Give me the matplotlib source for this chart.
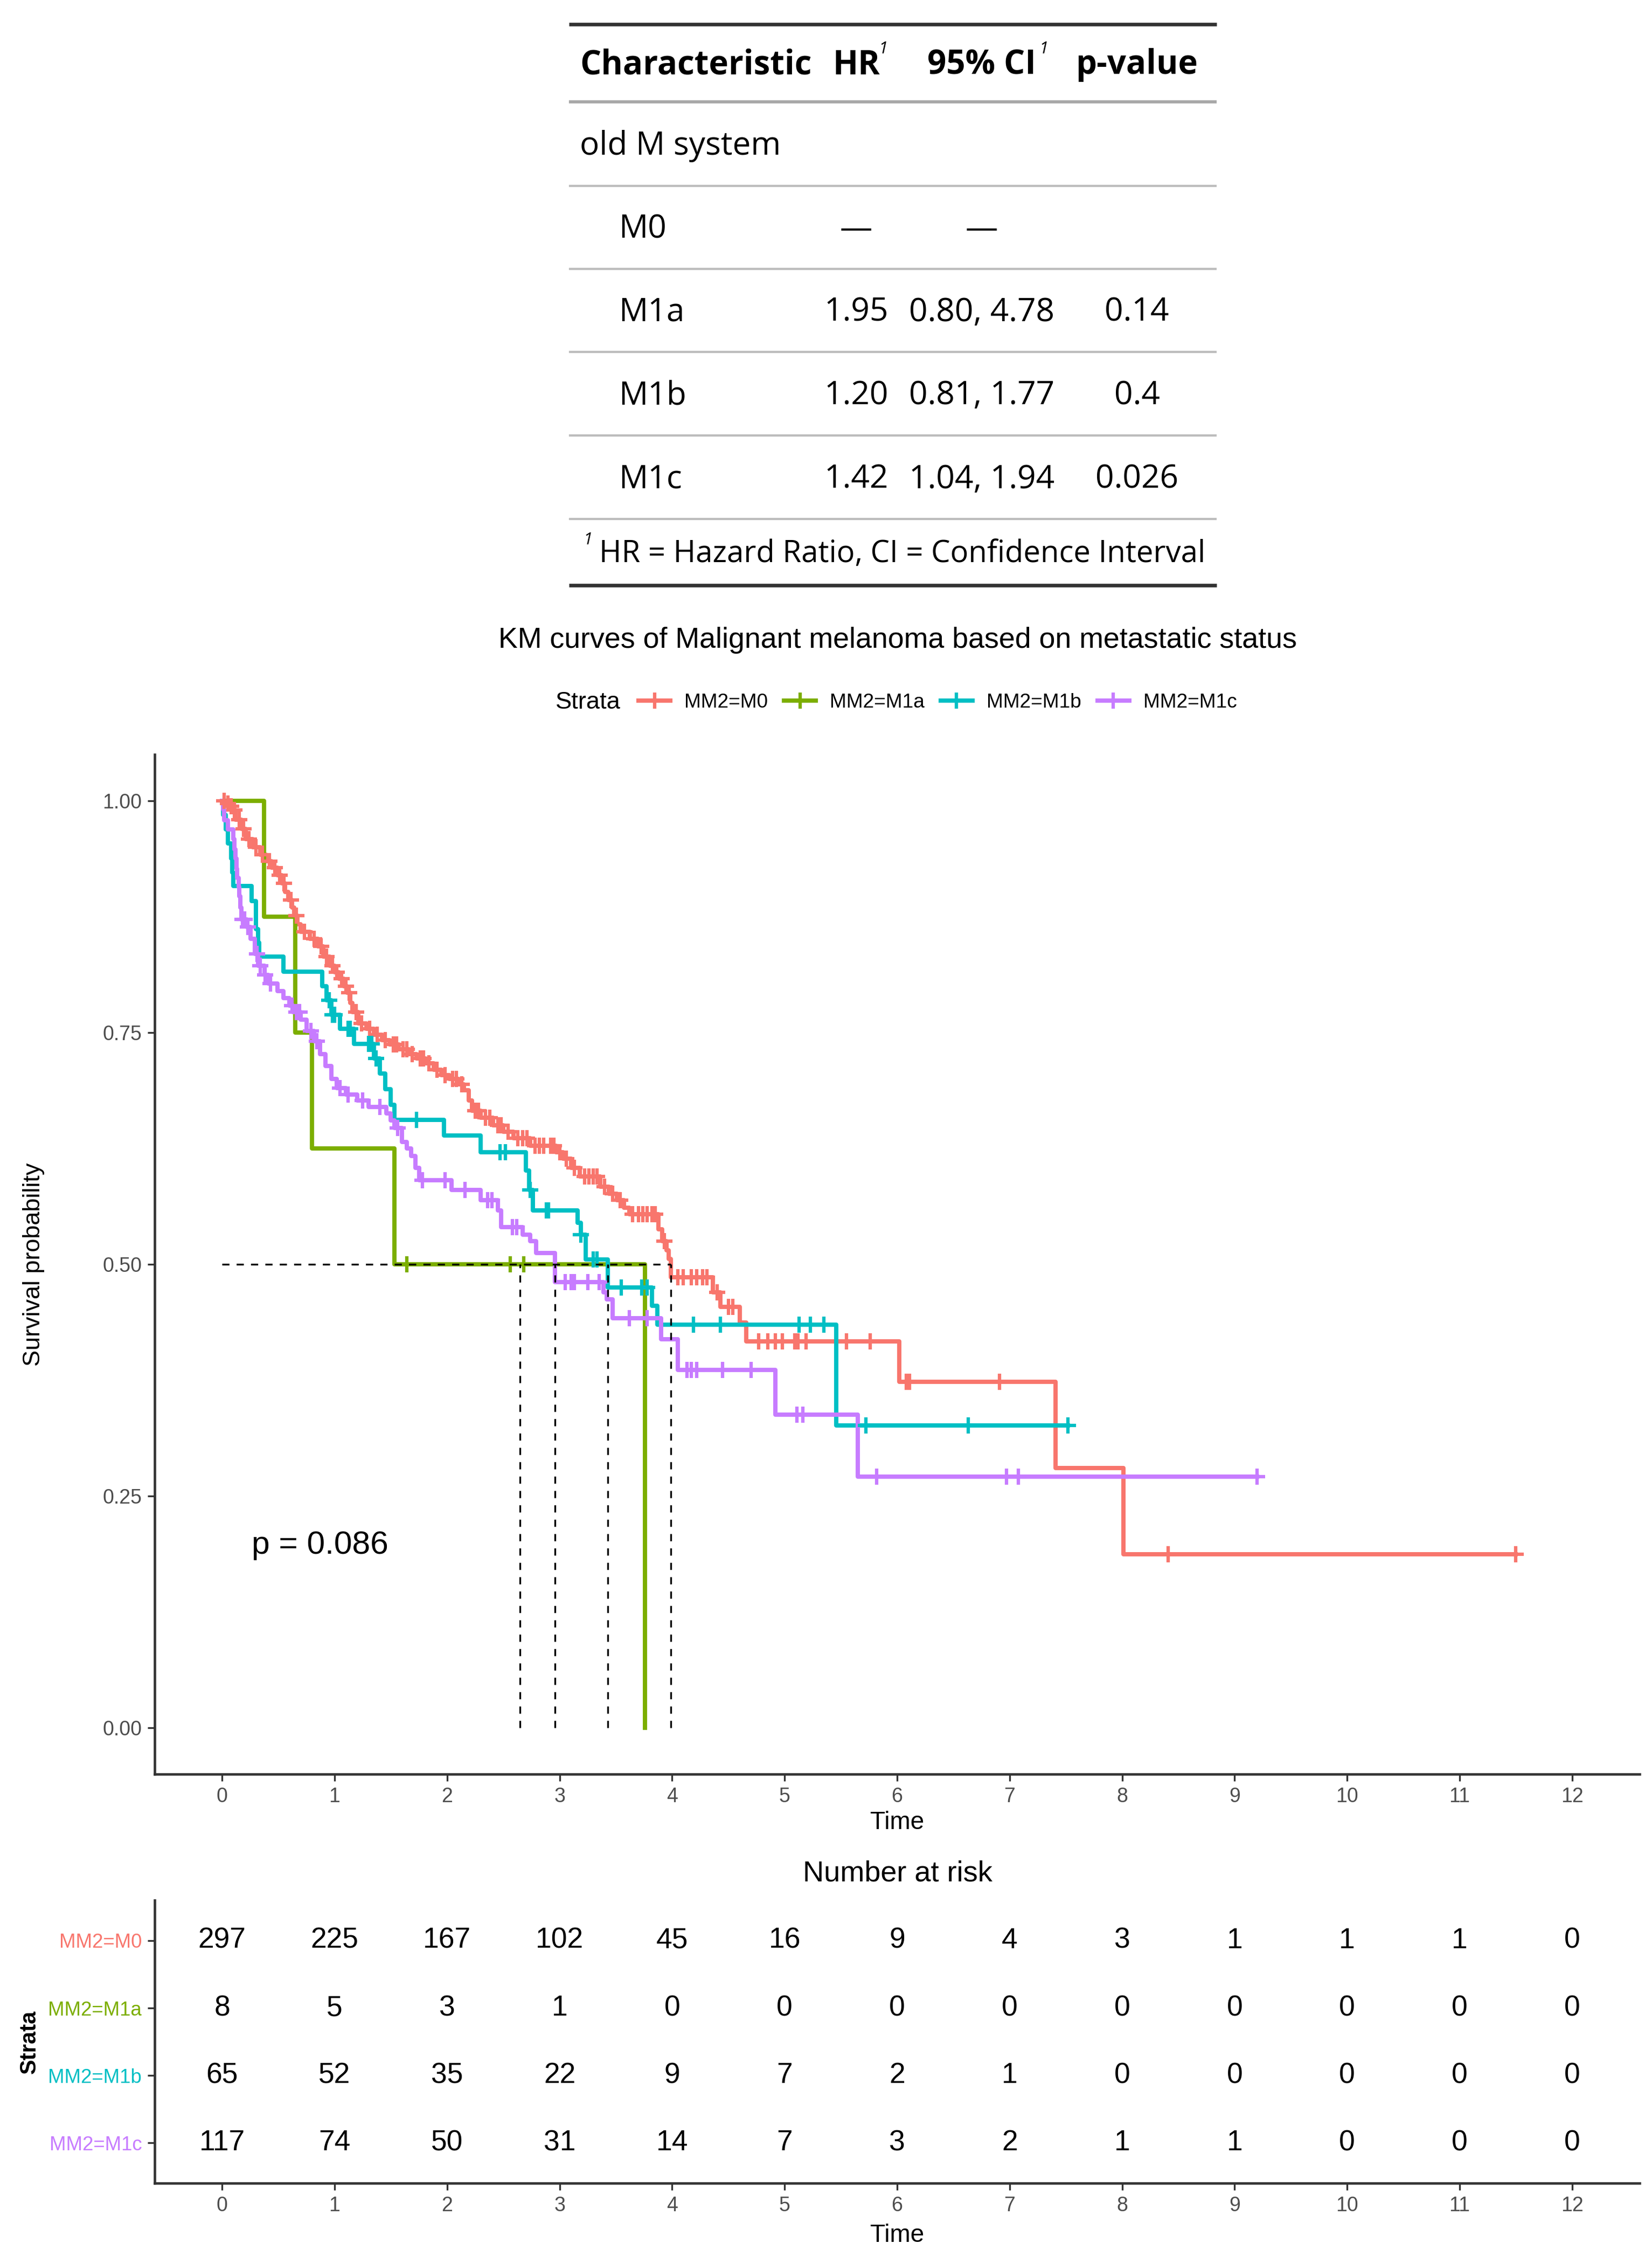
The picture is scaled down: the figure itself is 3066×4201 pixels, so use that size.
import numpy as np
import matplotlib
matplotlib.use("Agg")
import matplotlib.pyplot as plt
from matplotlib.lines import Line2D

# ---------------- data ----------------
# regression table
tab_header = ["Characteristic", "HR", "95% CI", "p-value"]
tab_group = "old M system"
tab_levels = ["M0", "M1a", "M1b", "M1c"]
tab_hr = ["\u2014", "1.95", "1.20", "1.42"]
tab_ci = ["\u2014", "0.80, 4.78", "0.81, 1.77", "1.04, 1.94"]
tab_p = ["", "0.14", "0.4", "0.026"]
tab_note = "HR = Hazard Ratio, CI = Confidence Interval"

strata = ["MM2=M0", "MM2=M1a", "MM2=M1b", "MM2=M1c"]
colors = ["#F8766D", "#7CAE00", "#00BFC4", "#C77CFF"]

# KM step knots (time of drop, survival after drop)
m0_time = [0, 0.03, 0.06, 0.09, 0.12, 0.17, 0.21, 0.27, 0.34, 0.39, 0.44, 0.49, 0.53, 0.56,
           0.59, 0.62, 0.64, 0.67, 0.70, 0.78, 0.85, 0.90, 0.955, 1.00, 1.04, 1.08, 1.11, 1.14,
           1.16, 1.21, 1.28, 1.35, 1.42, 1.49, 1.57, 1.66, 1.73, 1.81, 1.88, 1.95, 2.02, 2.10,
           2.15, 2.19, 2.22, 2.30, 2.41, 2.50, 2.59, 2.74, 2.97, 3.03, 3.10, 3.18, 3.36, 3.44,
           3.51, 3.57, 3.62, 3.88, 3.91, 3.95, 3.97, 3.99, 4.36, 4.43, 4.60, 4.66, 6.02, 7.41, 8.01]
m0_surv = [1.0, 0.997, 0.994, 0.990, 0.980, 0.970, 0.959, 0.950, 0.942, 0.935, 0.928, 0.920, 0.911, 0.902,
           0.893, 0.885, 0.876, 0.867, 0.859, 0.851, 0.843, 0.832, 0.822, 0.815, 0.808, 0.800, 0.793, 0.782,
           0.772, 0.760, 0.754, 0.748, 0.742, 0.737, 0.732, 0.727, 0.722, 0.717, 0.710, 0.704, 0.700, 0.694,
           0.688, 0.677, 0.666, 0.658, 0.650, 0.643, 0.636, 0.628, 0.621, 0.614, 0.604, 0.595, 0.584, 0.576,
           0.569, 0.561, 0.554, 0.538, 0.525, 0.515, 0.506, 0.486, 0.470, 0.454, 0.437, 0.417, 0.373, 0.280, 0.187]
m0_cens = [0.02, 0.05, 0.08, 0.11, 0.15, 0.19, 0.24, 0.30, 0.36, 0.42, 0.47, 0.51, 0.55, 0.61, 0.66,
           0.73, 0.82, 0.88, 0.93, 0.98, 1.02, 1.06, 1.10, 1.13, 1.19, 1.24, 1.31, 1.38, 1.45, 1.52,
           1.55, 1.61, 1.64, 1.69, 1.76, 1.79, 1.84, 1.91, 1.98, 2.05, 2.08, 2.13, 2.25, 2.28, 2.34,
           2.38, 2.45, 2.48, 2.54, 2.63, 2.67, 2.71, 2.78, 2.82, 2.86, 2.92, 2.95, 3.00, 3.06, 3.13,
           3.22, 3.26, 3.30, 3.33, 3.40, 3.47, 3.54, 3.65, 3.70, 3.74, 3.78, 3.82, 3.85, 3.93, 4.05,
           4.10, 4.17, 4.22, 4.27, 4.31, 4.40, 4.50, 4.54, 4.77, 4.85, 4.92, 4.98, 5.09, 5.12, 5.19,
           5.55, 5.76, 6.08, 6.11, 6.91, 8.41, 11.5]
m0_end = 11.5

m1a_time = [0, 0.37, 0.65, 0.80, 1.53, 3.76]
m1a_surv = [1.0, 0.875, 0.75, 0.625, 0.5, 0.0]
m1a_cens = [1.64, 2.56, 2.68]
m1a_end = 3.76

m1b_time = [0, 0.01, 0.03, 0.05, 0.08, 0.09, 0.10, 0.26, 0.30, 0.32, 0.33, 0.545, 0.89, 0.93, 0.97,
            1.05, 1.17, 1.35, 1.40, 1.45, 1.50, 1.53, 1.97, 2.30, 2.70, 2.73, 2.76, 3.16, 3.19, 3.23,
            3.43, 3.82, 3.87, 5.46]
m1b_surv = [1.0, 0.985, 0.969, 0.954, 0.938, 0.923, 0.908, 0.892, 0.862, 0.847, 0.832, 0.816, 0.800, 0.785,
            0.769, 0.754, 0.738, 0.722, 0.706, 0.689, 0.672, 0.656, 0.639, 0.621, 0.601, 0.580, 0.558, 0.545,
            0.532, 0.505, 0.475, 0.455, 0.435, 0.326]
m1b_cens = [0.95, 0.98, 1.00, 1.12, 1.14, 1.30, 1.33, 1.37, 1.73, 2.47, 2.52, 2.74, 2.88, 2.90, 3.19,
            3.30, 3.33, 3.55, 3.73, 3.78, 4.19, 4.43, 5.13, 5.23, 5.35, 5.72, 6.63, 7.52]
m1b_end = 7.52

m1c_time = [0, 0.01, 0.02, 0.05, 0.10, 0.11, 0.12, 0.13, 0.135, 0.145, 0.15, 0.16, 0.17, 0.22, 0.255,
            0.29, 0.32, 0.375, 0.41, 0.49, 0.545, 0.596, 0.63, 0.70, 0.75, 0.82, 0.87, 0.92, 0.97, 1.02,
            1.10, 1.20, 1.30, 1.46, 1.50, 1.53, 1.60, 1.64, 1.68, 1.72, 1.75, 2.04, 2.30, 2.45, 2.48,
            2.67, 2.74, 2.79, 2.96, 3.39, 3.42, 3.47, 3.90, 4.05, 4.92, 5.65]
m1c_surv = [1.0, 0.991, 0.979, 0.969, 0.959, 0.948, 0.938, 0.927, 0.917, 0.907, 0.897, 0.885, 0.872, 0.864, 0.851,
            0.835, 0.822, 0.812, 0.803, 0.795, 0.787, 0.779, 0.772, 0.764, 0.752, 0.741, 0.727, 0.714, 0.700, 0.690,
            0.683, 0.677, 0.670, 0.663, 0.655, 0.647, 0.632, 0.625, 0.617, 0.604, 0.591, 0.580, 0.569, 0.558, 0.540,
            0.532, 0.525, 0.512, 0.481, 0.470, 0.462, 0.442, 0.419, 0.386, 0.338, 0.271]
m1c_cens = [0.18, 0.20, 0.23, 0.31, 0.34, 0.38, 0.43, 0.62, 0.66, 0.69, 0.79, 0.84, 1.05, 1.12, 1.25,
            1.40, 1.56, 1.78, 1.98, 2.16, 2.36, 2.40, 2.58, 2.62, 3.05, 3.10, 3.13, 3.25, 3.35, 3.62,
            3.78, 4.13, 4.17, 4.22, 4.45, 4.70, 5.11, 5.16, 5.82, 6.97, 7.08, 9.2]
m1c_end = 9.2

pval_text = "p = 0.086"

risk_times = [0, 1, 2, 3, 4, 5, 6, 7, 8, 9, 10, 11, 12]
risk_m0 = [297, 225, 167, 102, 45, 16, 9, 4, 3, 1, 1, 1, 0]
risk_m1a = [8, 5, 3, 1, 0, 0, 0, 0, 0, 0, 0, 0, 0]
risk_m1b = [65, 52, 35, 22, 9, 7, 2, 1, 0, 0, 0, 0, 0]
risk_m1c = [117, 74, 50, 31, 14, 7, 3, 2, 1, 1, 0, 0, 0]

curves = [(m0_time, m0_surv, m0_cens, m0_end),
          (m1a_time, m1a_surv, m1a_cens, m1a_end),
          (m1b_time, m1b_surv, m1b_cens, m1b_end),
          (m1c_time, m1c_surv, m1c_cens, m1c_end)]
risks = [risk_m0, risk_m1a, risk_m1b, risk_m1c]

# ---------------- figure ----------------
W, H = 3066, 4201
DPI = 300
fig = plt.figure(figsize=(W / DPI, H / DPI), dpi=DPI)
SANS = ["Liberation Sans", "DejaVu Sans"]
TFONT = ["Open Sans", "DejaVu Sans"]

# ---- regression table (pixel-space overlay) ----
tab = fig.add_axes([0, 0, 1, 1])
tab.set_xlim(0, W)
tab.set_ylim(H, 0)
tab.axis("off")
x_l, x_r = 1056, 2258
line_y = [45, 189, 345, 499, 653, 808, 963, 1086]
for i, yy in enumerate(line_y):
    if i in (0, len(line_y) - 1):
        tab.plot([x_l, x_r], [yy, yy], color="#333333", lw=1.6, solid_capstyle="butt")
    elif i == 1:
        tab.plot([x_l, x_r], [yy, yy], color="#a8a8a8", lw=1.4, solid_capstyle="butt")
    else:
        tab.plot([x_l, x_r], [yy, yy], color="#bdbdbd", lw=1.0, solid_capstyle="butt")

row_c = [(line_y[k] + line_y[k + 1]) / 2 + 4 for k in range(len(line_y) - 1)]
col_x = [1076, 1589, 1822, 2110]
FS = 14.5
FSH = 14.8
tab.text(col_x[0], row_c[0], tab_header[0], family=TFONT, weight="bold", fontsize=FSH, ha="left", va="center")
for j in range(1, 4):
    tab.text(col_x[j], row_c[0], tab_header[j], family=TFONT, weight="bold", fontsize=FSH, ha="center", va="center")
# superscript footnote markers
tab.text(1630, row_c[0] - 30, "1", family=TFONT, style="italic", fontsize=7.5, ha="left", va="center")
tab.text(1928, row_c[0] - 30, "1", family=TFONT, style="italic", fontsize=7.5, ha="left", va="center")
tab.text(col_x[0], row_c[1], tab_group, family=TFONT, fontsize=FS, ha="left", va="center")
for k, lev in enumerate(tab_levels):
    yy = row_c[2 + k]
    tab.text(1148, yy, lev, family=TFONT, fontsize=FS, ha="left", va="center")
    tab.text(col_x[1], yy, tab_hr[k], family=TFONT, fontsize=FS, ha="center", va="center")
    tab.text(col_x[2], yy, tab_ci[k], family=TFONT, fontsize=FS, ha="center", va="center")
    tab.text(col_x[3], yy, tab_p[k], family=TFONT, fontsize=FS, ha="center", va="center")
tab.text(1082, row_c[6] - 26, "1", family=TFONT, style="italic", fontsize=7.5, ha="left", va="center")
tab.text(1112, row_c[6], tab_note, family=TFONT, fontsize=13.5, ha="left", va="center")

# ---- KM plot ----
ax = fig.add_axes([0.0936, 0.2164, 0.8989, 0.4503])
LW = 1.9


def step_at(t, s, x):
    idx = np.searchsorted(np.asarray(t), np.asarray(x), side="right") - 1
    return np.asarray(s)[idx]


medians = []
for (t, s, c, end), col in zip(curves, colors):
    tt = list(t)
    ss = list(s)
    if end > tt[-1]:
        tt.append(end)
        ss.append(ss[-1])
    ax.step(tt, ss, where="post", color=col, lw=LW, zorder=3)
    ax.plot(c, step_at(t, s, c), linestyle="none", marker="+", markersize=7,
            mew=1.5, color=col, zorder=4)
    # median survival
    med = None
    for i in range(len(s)):
        if s[i] <= 0.5:
            if abs(s[i] - 0.5) < 1e-9 and i + 1 < len(t):
                med = (t[i] + t[i + 1]) / 2
            else:
                med = t[i]
            break
    medians.append(med)

meds = [m for m in medians if m is not None]
dash = (0, (4, 4))
ax.plot([0, max(meds)], [0.5, 0.5], color="black", lw=0.8, linestyle=dash, zorder=5)
for m in meds:
    ax.plot([m, m], [0, 0.5], color="black", lw=0.8, linestyle=dash, zorder=5)

ax.text(0.26, 0.197, pval_text, family=SANS, fontsize=14.5, ha="left", va="center")

ax.set_xlim(-0.6, 12.6)
ax.set_ylim(-0.05, 1.05)
ax.set_xticks(risk_times)
ax.set_xticklabels([str(v) for v in risk_times])
yt = [0, 0.25, 0.5, 0.75, 1.0]
ax.set_yticks(yt)
ax.set_yticklabels(["%.2f" % v for v in yt])
for sp in ["top", "right"]:
    ax.spines[sp].set_visible(False)
for sp in ["left", "bottom"]:
    ax.spines[sp].set_color("#333333")
    ax.spines[sp].set_linewidth(1.1)
ax.tick_params(axis="both", length=3.2, width=0.8, color="#333333", labelcolor="#4D4D4D",
               labelsize=9, pad=2.5)
for lab in ax.get_xticklabels() + ax.get_yticklabels():
    lab.set_family(SANS)
ax.set_xlabel("Time", family=SANS, fontsize=11)
ax.xaxis.set_label_coords(0.5, -0.036)
ax.set_ylabel("Survival probability", family=SANS, fontsize=10.8)
ax.yaxis.set_label_coords(-0.074, 0.5)

fig.text(0.5433, 0.7172, "KM curves of Malignant melanoma based on metastatic status",
         family=SANS, fontsize=12.9, ha="center", va="center")

# legend
handles = [Line2D([0], [0], color=c, lw=LW, marker="+", markersize=7, mew=1.5) for c in colors]
leg = fig.legend(handles, strata, loc="center left", bbox_to_anchor=(0.3865, 0.6898), ncol=4,
                 frameon=False, handlelength=1.6, handletextpad=0.7,
                 columnspacing=0.8, borderpad=0, borderaxespad=0, prop={"family": SANS, "size": 8.9})
fig.text(0.3363, 0.6898, "Strata", family=SANS, fontsize=10.9, ha="left", va="center")

# ---- risk table ----
rax = fig.add_axes([0.0936, 0.0356, 0.8989, 0.1251])
nrow = len(strata)
for k, r in enumerate(risks):
    yy = nrow - k
    for tx, n in zip(risk_times, r):
        rax.text(tx, yy, str(n), family=SANS, fontsize=12.8, ha="center", va="center")
rax.set_xlim(-0.6, 12.6)
rax.set_ylim(0.4, nrow + 0.6)
rax.set_xticks(risk_times)
rax.set_xticklabels([str(v) for v in risk_times])
rax.set_yticks([nrow - k for k in range(nrow)])
rax.set_yticklabels(strata)
for lab, col in zip(rax.get_yticklabels(), colors):
    lab.set_color(col)
    lab.set_family(SANS)
    lab.set_fontsize(8.8)
for sp in ["top", "right"]:
    rax.spines[sp].set_visible(False)
for sp in ["left", "bottom"]:
    rax.spines[sp].set_color("#333333")
    rax.spines[sp].set_linewidth(1.1)
rax.tick_params(axis="both", length=3.2, width=0.8, color="#333333", pad=2.5)
rax.tick_params(axis="x", labelcolor="#4D4D4D", labelsize=9)
for lab in rax.get_xticklabels():
    lab.set_family(SANS)
rax.set_xlabel("Time", family=SANS, fontsize=11)
rax.xaxis.set_label_coords(0.5, -0.141)
rax.set_ylabel("Strata", family=SANS, fontsize=10, weight="bold")
rax.yaxis.set_label_coords(-0.077, 0.5)
fig.text(0.5433, 0.1724, "Number at risk", family=SANS, fontsize=13, ha="center", va="center")

fig.savefig("out.png", dpi=DPI)
